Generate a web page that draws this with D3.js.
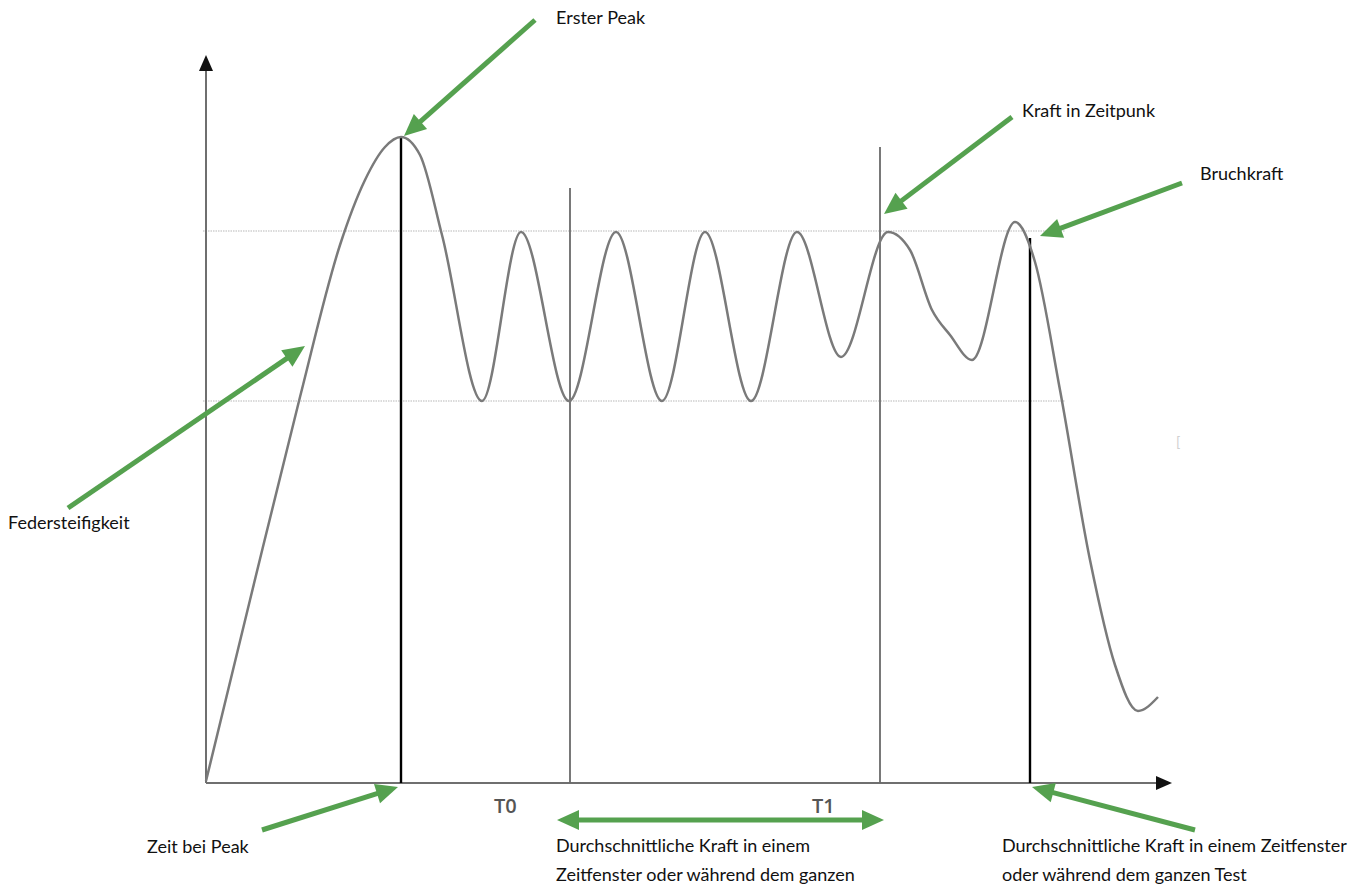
<!DOCTYPE html>
<html><head><meta charset="utf-8">
<script src="https://cdn.jsdelivr.net/npm/d3@7"></script>
<style>html,body{margin:0;padding:0;background:#fff;}svg{display:block;}</style>
</head><body>
<script>
// ---- data (time units, force units) ----
const curveTime  = [0, 44, 94, 134, 159, 179, 195, 214, 236, 276, 315, 363, 410, 456, 499, 545, 591, 635, 682, 704, 726, 744, 766, 809, 829, 854, 884, 909, 932, 952];
const curveForce = [2, 183, 386, 538, 603, 636, 646, 628, 548, 382, 551, 382, 551, 382, 551, 382, 551, 426, 551, 533, 473, 448, 423, 561, 521, 393, 223, 118, 72, 86];
const refLevels = [552, 382];          // dotted horizontal levels
const refExtent = [-3, 859];
const markerTimes = [195, 364, 674, 824];   // Peak, T0, T1, Bruch
const markerTops  = [646, 595, 636, 545];
const markerKinds = ["black", "grey", "grey", "black"];
const tickLabels = [{t: 288, text: "T0"}, {t: 606, text: "T1"}];
const annotations = [
  {text: "Erster Peak", lines: ["Erster Peak"]},
  {text: "Kraft in Zeitpunk", lines: ["Kraft in Zeitpunk"]},
  {text: "Bruchkraft", lines: ["Bruchkraft"]},
  {text: "Federsteifigkeit", lines: ["Federsteifigkeit"]},
  {text: "Zeit bei Peak", lines: ["Zeit bei Peak"]},
  {text: "Durchschnittliche Kraft", lines: ["Durchschnittliche Kraft in einem", "Zeitfenster oder während dem ganzen"]},
  {text: "Durchschnittliche Kraft Test", lines: ["Durchschnittliche Kraft in einem Zeitfenster", "oder während dem ganzen Test"]}
];

const W = 1368, H = 886;
const svg = d3.select("body").append("svg").attr("width", W).attr("height", H);

const x = d3.scaleLinear().domain([0, 964]).range([206, 1170]);
const y = d3.scaleLinear().domain([0, 728]).range([783, 55]);

const GREEN = "#55a14f";
const AXIS = "#6f6f6f";

// reference dotted lines
refLevels.forEach(v => {
  svg.append("line").attr("x1", x(refExtent[0])).attr("x2", x(refExtent[1]))
    .attr("y1", y(v)).attr("y2", y(v))
    .attr("stroke", "#b8b8b8").attr("stroke-width", 1.2).attr("stroke-dasharray", "1.5,1");
});

// axes
svg.append("line").attr("x1", x(0)).attr("x2", x(0)).attr("y1", y(0)).attr("y2", y(718))
  .attr("stroke", AXIS).attr("stroke-width", 2);
svg.append("line").attr("x1", x(0)).attr("x2", x(952)).attr("y1", y(0)).attr("y2", y(0))
  .attr("stroke", AXIS).attr("stroke-width", 2);
// axis arrowheads
svg.append("path").attr("d", `M${x(0)},${y(728)} L${x(0)-7},${y(712)} L${x(0)+7},${y(712)} Z`).attr("fill", "#111");
svg.append("path").attr("d", `M${x(966)},${y(0)} L${x(950)},${y(0)-7} L${x(950)},${y(0)+7} Z`).attr("fill", "#111");

// vertical marker lines
markerTimes.forEach((t, i) => {
  svg.append("line").attr("x1", x(t)).attr("x2", x(t)).attr("y1", y(0)).attr("y2", y(markerTops[i]))
    .attr("stroke", markerKinds[i] === "black" ? "#000" : "#6a6a6a")
    .attr("stroke-width", markerKinds[i] === "black" ? 2.4 : 1.8);
});

// curve
const pts = curveTime.map((t, i) => [t, curveForce[i]]);
svg.append("path").datum(pts)
  .attr("d", d3.line().x(d => x(d[0])).y(d => y(d[1])).curve(d3.curveMonotoneX))
  .attr("fill", "none").attr("stroke", "#7a7a7a").attr("stroke-width", 2.5);

// tick labels T0 / T1
tickLabels.forEach(d => {
  svg.append("text").attr("x", x(d.t)).attr("y", 813).text(d.text)
    .attr("font-family", "Open Sans, sans-serif").attr("font-size", 20).attr("font-weight", 600)
    .attr("fill", "#555");
});

// green arrows
function arrow(x1, y1, x2, y2, both) {
  const ang = Math.atan2(y2 - y1, x2 - x1);
  const L = 22, Wd = 10;
  function head(tx, ty, a) {
    const bx = tx - L * Math.cos(a), by = ty - L * Math.sin(a);
    const px = -Math.sin(a) * Wd, py = Math.cos(a) * Wd;
    svg.append("path").attr("d", `M${tx},${ty} L${bx+px},${by+py} L${bx-px},${by-py} Z`).attr("fill", GREEN);
    return [tx - (L - 4) * Math.cos(a), ty - (L - 4) * Math.sin(a)];
  }
  const e = head(x2, y2, ang);
  let s = [x1, y1];
  if (both) s = head(x1, y1, ang + Math.PI);
  svg.append("line").attr("x1", s[0]).attr("y1", s[1]).attr("x2", e[0]).attr("y2", e[1])
    .attr("stroke", GREEN).attr("stroke-width", 5);
}
arrow(535, 20, x(195) + 3, y(646) - 1);
arrow(1012, 117, x(674) + 4, y(636) + 67);
arrow(1182, 183, x(824) + 10, y(545) - 2);
arrow(68, 508, x(99), y(437));
arrow(262, 830, x(195) - 3, y(0) + 4);
arrow(1195, 830, x(824) + 2, y(0) + 4);
arrow(x(351), 820, x(678), 820, true);

// annotation texts
const textPos = [[556, 24], [1022, 117], [1200, 180], [8, 529], [147, 853], [556, 852], [1002, 852]];
annotations.forEach((a, i) => {
  const t = svg.append("text").attr("x", textPos[i][0]).attr("y", textPos[i][1])
    .attr("font-family", "Lato, sans-serif").attr("font-size", 18).attr("fill", "#111");
  a.lines.forEach((ln, j) => {
    t.append("tspan").attr("x", textPos[i][0]).attr("dy", j === 0 ? 0 : 29).text(ln);
  });
});

// faint stray mark
svg.append("text").attr("x", 1176).attr("y", 447).text("[")
  .attr("font-family", "Lato, sans-serif").attr("font-size", 14).attr("fill", "#d0d0d0");
</script>
</body></html>
